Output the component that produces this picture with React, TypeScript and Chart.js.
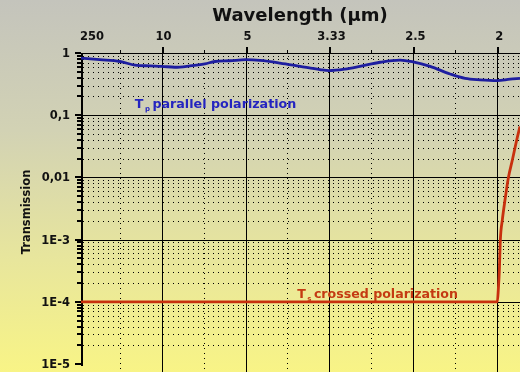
import { useEffect, useRef } from "react";
import { Chart, registerables } from "chart.js";

Chart.register(...registerables);

// Wavenumber (cm⁻¹) positions of the curves; top axis is labelled in wavelength (µm)
const parallelWavenumber = [40, 265, 503, 682, 861, 1004, 1158, 1337, 1516, 1636, 1814, 2005, 2172, 2410, 2649, 2887, 2994, 3185, 3364, 3602, 3841, 3996, 4199, 4437, 4616, 4794, 4997, 5152, 5270];
const parallelT = [0.83, 0.78, 0.73, 0.64, 0.62, 0.61, 0.59, 0.62, 0.67, 0.73, 0.75, 0.78, 0.76, 0.69, 0.61, 0.54, 0.52, 0.55, 0.61, 0.71, 0.77, 0.72, 0.61, 0.46, 0.39, 0.37, 0.36, 0.38, 0.39];

const crossedWavenumber = [40, 1000, 2000, 3000, 4000, 5000, 5012, 5024, 5036, 5060, 5092, 5131, 5179, 5231, 5270];
const crossedT = [1e-4, 1e-4, 1e-4, 1e-4, 1e-4, 1e-4, 1.6e-4, 3.2e-4, 1e-3, 2.1e-3, 4.4e-3, 9.8e-3, 0.019, 0.04, 0.066];

const topTickValues = [40, 1000, 2000, 3000, 4000, 5000];
const topTickLabels = ["250", "10", "5", "3.33", "2.5", "2"];
const topMinorValues = [500, 1500, 2500, 3500, 4500];
const yDecadeValues = [1, 0.1, 0.01, 1e-3, 1e-4, 1e-5];
const yDecadeLabels = ["1", "0,1", "0,01", "1E-3", "1E-4", "1E-5"];

const xTitle = "Wavelength (µm)";
const yTitle = "Transmission";
const parallelLabel = ["T", "p", "parallel polarization"];
const crossedLabel = ["T", "s", "crossed polarization"];

const FONT = '"DejaVu Sans", Verdana, sans-serif';

const decorPlugin = {
  id: "decor",
  beforeDraw(chart: any) {
    const { ctx, width, height } = chart;
    ctx.save();
    const g = ctx.createLinearGradient(0, 0, 0, height);
    g.addColorStop(0, "#c4c4bc");
    g.addColorStop(0.35, "#d2d2b4");
    g.addColorStop(0.7, "#e8e69c");
    g.addColorStop(1, "#f8f486");
    ctx.fillStyle = g;
    ctx.fillRect(0, 0, width, height);
    ctx.restore();
  },
  beforeDatasetsDraw(chart: any) {
    const { ctx, chartArea: a } = chart;
    const xs = chart.scales.x;
    const ys = chart.scales.y;
    ctx.save();
    ctx.beginPath();
    ctx.rect(a.left, a.top, a.right - a.left, a.bottom - a.top);
    ctx.clip();
    ctx.strokeStyle = "#000";
    ctx.lineWidth = 1;
    ctx.setLineDash([1, 4]);
    for (let e = -5; e < 0; e++) {
      for (let k = 2; k <= 9; k++) {
        const v = k * Math.pow(10, e);
        const py = Math.round(ys.getPixelForValue(v)) + 0.5;
        ctx.beginPath();
        ctx.moveTo(a.left + 2, py);
        ctx.lineTo(a.right, py);
        ctx.stroke();
      }
    }
    for (const v of topMinorValues) {
      const px = Math.round(xs.getPixelForValue(v)) + 0.5;
      ctx.beginPath();
      ctx.moveTo(px, a.top);
      ctx.lineTo(px, a.bottom);
      ctx.stroke();
    }
    ctx.setLineDash([]);
    for (let i = 0; i < yDecadeValues.length - 1; i++) {
      const py = Math.round(ys.getPixelForValue(yDecadeValues[i])) + 0.5;
      ctx.beginPath();
      ctx.moveTo(a.left, py);
      ctx.lineTo(a.right, py);
      ctx.stroke();
    }
    for (let i = 1; i < topTickValues.length; i++) {
      const px = Math.round(xs.getPixelForValue(topTickValues[i])) + 0.5;
      ctx.beginPath();
      ctx.moveTo(px, a.top);
      ctx.lineTo(px, a.bottom);
      ctx.stroke();
    }
    ctx.restore();

    ctx.save();
    ctx.fillStyle = "#000";
    const yBottom = Math.round(ys.getPixelForValue(1e-5));
    ctx.fillRect(a.left, a.top, 2, yBottom - a.top + 2);
    for (let e = -5; e <= 0; e++) {
      const py = Math.round(ys.getPixelForValue(Math.pow(10, e)));
      ctx.fillRect(a.left - 6, py - 1, 6, 2);
      if (e < 0) {
        for (let k = 2; k <= 9; k++) {
          const pm = Math.round(ys.getPixelForValue(k * Math.pow(10, e)));
          ctx.fillRect(a.left - 4, pm - 1, 4, 2);
        }
      }
    }
    for (let i = 1; i < topTickValues.length; i++) {
      const px = Math.round(xs.getPixelForValue(topTickValues[i]));
      ctx.fillRect(px, a.top - 6, 2, 6);
    }
    for (const v of topMinorValues) {
      const px = Math.round(xs.getPixelForValue(v));
      ctx.fillRect(px, a.top - 3, 1, 3);
    }
    ctx.font = `bold 11.5px ${FONT}`;
    ctx.textAlign = "right";
    ctx.textBaseline = "middle";
    ctx.fillStyle = "#111";
    yDecadeValues.forEach((v, i) => {
      const py = ys.getPixelForValue(v);
      ctx.fillText(yDecadeLabels[i], a.left - 11, py + 1);
    });
    ctx.textBaseline = "alphabetic";
    topTickValues.forEach((v, i) => {
      const px = xs.getPixelForValue(v);
      if (i === 0) {
        ctx.textAlign = "left";
        ctx.fillText(topTickLabels[i], px - 1, 40);
      } else {
        ctx.textAlign = "center";
        ctx.fillText(topTickLabels[i], px + 2, 40);
      }
    });
    ctx.font = `bold 18px ${FONT}`;
    ctx.textAlign = "center";
    ctx.fillText(xTitle, 300, 21);
    ctx.save();
    ctx.translate(27, 212);
    ctx.rotate(-Math.PI / 2);
    ctx.font = `bold 11.5px ${FONT}`;
    ctx.textBaseline = "middle";
    ctx.fillText(yTitle, 0, 0);
    ctx.restore();
    ctx.restore();
  },
  afterDatasetsDraw(chart: any) {
    const { ctx } = chart;
    const xs = chart.scales.x;
    const ys = chart.scales.y;
    const drawLabel = (parts: string[], wn: number, t: number, color: string, size: number) => {
      const x0 = xs.getPixelForValue(wn);
      const base = ys.getPixelForValue(t);
      ctx.save();
      ctx.fillStyle = color;
      ctx.textAlign = "left";
      ctx.textBaseline = "alphabetic";
      ctx.font = `bold ${size}px ${FONT}`;
      ctx.fillText(parts[0], x0, base);
      const tw = ctx.measureText(parts[0]).width;
      ctx.font = `bold 7px ${FONT}`;
      ctx.fillText(parts[1], x0 + tw + 1.5, base + 3);
      const sw = ctx.measureText(parts[1]).width;
      ctx.font = `bold ${size}px ${FONT}`;
      ctx.fillText(parts[2], x0 + tw + 1.5 + sw + 2.5, base);
      ctx.restore();
    };
    drawLabel(parallelLabel, 680, 0.13, "#2424c0", 12.7);
    drawLabel(crossedLabel, 2615, 1.17e-4, "#c43a12", 12.6);
  },
};

export default function App() {
  const ref = useRef<HTMLCanvasElement>(null);
  useEffect(() => {
    if (!ref.current) return;
    const chart = new Chart(ref.current, {
      type: "line",
      data: {
        datasets: [
          {
            label: "Tp parallel polarization",
            data: parallelWavenumber.map((x, i) => ({ x, y: parallelT[i] })),
            borderColor: "#1e1ea0",
            borderWidth: 2.8,
            pointRadius: 0,
            cubicInterpolationMode: "monotone",
            fill: false,
          },
          {
            label: "Ts crossed polarization",
            data: crossedWavenumber.map((x, i) => ({ x, y: crossedT[i] })),
            borderColor: "#c8300e",
            borderWidth: 2.8,
            pointRadius: 0,
            cubicInterpolationMode: "monotone",
            fill: false,
          },
        ],
      },
      options: {
        responsive: false,
        animation: false,
        events: [],
        layout: { padding: { top: 53, left: 81, right: 0, bottom: 0 } },
        plugins: { legend: { display: false }, tooltip: { enabled: false }, title: { display: false } },
        scales: {
          x: { type: "linear", min: 40, max: 5270, display: false },
          y: { type: "logarithmic", min: Math.pow(10, -5.129), max: 1, display: false },
        },
      },
      plugins: [decorPlugin],
    });
    return () => chart.destroy();
  }, []);
  return (
    <div style={{ position: "fixed", left: 0, top: 0, width: 520, height: 372 }}>
      <canvas ref={ref} width={520} height={372} style={{ display: "block" }} />
    </div>
  );
}
